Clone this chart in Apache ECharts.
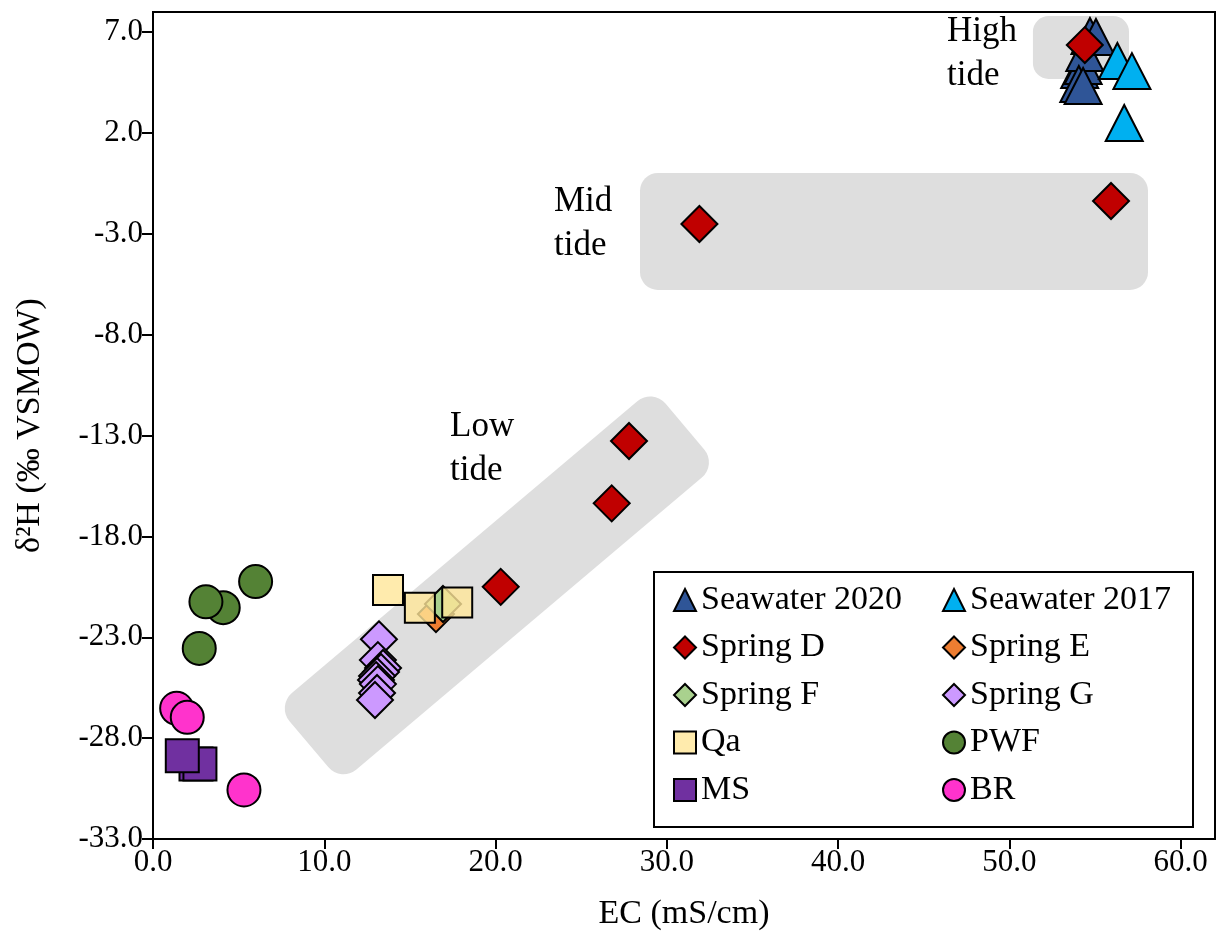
<!DOCTYPE html>
<html>
<head>
<meta charset="utf-8">
<script src="https://cdn.jsdelivr.net/npm/echarts@6/dist/echarts.min.js"></script>
<style>
  html, body { margin: 0; padding: 0; background: #fff; }
  #chart { width: 1216px; height: 947px; }
</style>
</head>
<body>
<div id="chart"></div>
<script>
// EC (mS/cm) vs δ2H (‰ VSMOW) for each sampled water source
const seawater2020 = [[54.1, 5.12], [54.3, 5.32], [54.4, 5.97], [54.05, 4.43], [54.3, 4.33], [54.7, 6.81], [55.05, 6.76]];
const seawater2017 = [[56.3, 5.57], [57.15, 5.07], [56.7, 2.5]];
const springD = [[54.4, 6.36], [31.9, -2.51], [55.93, -1.37], [27.79, -13.27], [26.78, -16.36], [20.3, -20.5]];
const springE = [[16.52, -21.85]];
const springF = [[16.93, -21.35]];
const springG = [[13.19, -23.1], [13.13, -24.13], [13.43, -24.52], [13.31, -24.72], [13.08, -24.92], [13.02, -25.12], [13.13, -25.32], [13.08, -25.76], [12.96, -26.11]];
const qa = [[13.72, -20.66], [15.58, -21.53], [17.76, -21.27]];
const pwf = [[5.99, -20.24], [4.10, -21.53], [3.09, -21.24], [2.70, -23.55]];
const ms = [[2.51, -29.28], [2.74, -29.28], [1.71, -28.87]];
const br = [[1.38, -26.52], [2.0, -26.97], [5.31, -30.57]];

// axis ticks
const xTicks = [0, 10, 20, 30, 40, 50, 60];
const yTicks = [-33, -28, -23, -18, -13, -8, -3, 2, 7];

// shaded tidal groupings, data units: [x0, y0, x1, y1]
const tideBoxes = [[51.37, 7.80, 56.98, 4.68], [28.43, 0.02, 58.09, -5.78]];
// low-tide band: centre line end points [x0, y0, x1, y1]
const lowTideBand = [[9.1, -28.3, 31.05, -12.55]];
const tideLabels = ['High\ntide', 'Mid\ntide', 'Low\ntide'];
const tideLabelAnchors = [[46.35, 5.92], [23.41, -2.51], [17.34, -13.67]];

const FONT = "'Liberation Serif', 'Times New Roman', serif";
const SHADE = '#dedede';

function scatter(name, data, symbol, size, color, extra) {
  return Object.assign({
    name: name,
    type: 'scatter',
    data: data,
    symbol: symbol,
    symbolSize: size,
    z: 3,
    itemStyle: { color: color, borderColor: '#000', borderWidth: 2, opacity: 1 },
    emphasis: { disabled: true }
  }, extra || {});
}

const chart = echarts.init(document.getElementById('chart'), null, { renderer: 'canvas' });

chart.setOption({
  animation: false,
  backgroundColor: '#fff',
  textStyle: { fontFamily: FONT },
  grid: {
    left: 153, right: 1, top: 12, bottom: 108,
    show: true, borderColor: '#000', borderWidth: 2, backgroundColor: 'transparent'
  },
  xAxis: {
    type: 'value', min: 0, max: 62, interval: 10,
    name: 'EC (mS/cm)', nameLocation: 'middle', nameGap: 58,
    nameTextStyle: { fontFamily: FONT, fontSize: 34, color: '#000' },
    axisLine: { show: true, onZero: false, lineStyle: { color: '#000', width: 2 } },
    axisTick: { show: true, length: 10, inside: false, customValues: xTicks, lineStyle: { color: '#000', width: 2 } },
    axisLabel: {
      customValues: xTicks, margin: 8,
      fontFamily: FONT, fontSize: 31, color: '#000',
      formatter: v => v.toFixed(1)
    },
    splitLine: { show: false }
  },
  yAxis: {
    type: 'value', min: -33, max: 8, interval: 5,
    name: 'δ²H (‰ VSMOW)', nameLocation: 'middle', nameGap: 106,
    nameTextStyle: { fontFamily: FONT, fontSize: 34, color: '#000' },
    axisLine: { show: true, onZero: false, lineStyle: { color: '#000', width: 2 } },
    axisTick: { show: true, length: 11, inside: false, customValues: yTicks, lineStyle: { color: '#000', width: 2 } },
    axisLabel: {
      customValues: yTicks, margin: 10,
      fontFamily: FONT, fontSize: 31, color: '#000',
      formatter: v => v.toFixed(1)
    },
    splitLine: { show: false }
  },
  legend: [
    {
      orient: 'vertical', left: 668, top: 575, itemGap: 7.5,
      itemWidth: 22, itemHeight: 22, z: 6,
      textStyle: { fontFamily: FONT, fontSize: 34, color: '#000', lineHeight: 40 },
      data: ['Seawater 2020', 'Spring D', 'Spring F', 'Qa', 'MS']
    },
    {
      orient: 'vertical', left: 937, top: 575, itemGap: 7.5,
      itemWidth: 22, itemHeight: 22, z: 6,
      textStyle: { fontFamily: FONT, fontSize: 34, color: '#000', lineHeight: 40 },
      data: ['Seawater 2017', 'Spring E', 'Spring G', 'PWF', 'BR']
    }
  ],
  graphic: [
    {
      type: 'rect', left: 653, top: 571, z: 5,
      shape: { width: 539, height: 255 },
      style: { fill: '#fff', stroke: '#000', lineWidth: 2 }
    }
  ],
  series: [
    {
      type: 'custom', name: 'tide-boxes', z: 1, silent: true,
      encode: { x: [0, 2], y: [1, 3] },
      data: tideBoxes,
      renderItem: function (params, api) {
        const p0 = api.coord([api.value(0), api.value(1)]);
        const p1 = api.coord([api.value(2), api.value(3)]);
        const x = Math.min(p0[0], p1[0]), y = Math.min(p0[1], p1[1]);
        const w = Math.abs(p1[0] - p0[0]), h = Math.abs(p1[1] - p0[1]);
        return {
          type: 'rect',
          shape: { x: x, y: y, width: w, height: h, r: Math.min(18, h / 4) },
          style: { fill: SHADE }
        };
      }
    },
    {
      type: 'custom', name: 'low-tide-band', z: 1, silent: true,
      encode: { x: [0, 2], y: [1, 3] },
      data: lowTideBand,
      renderItem: function (params, api) {
        const p0 = api.coord([api.value(0), api.value(1)]);
        const p1 = api.coord([api.value(2), api.value(3)]);
        const dx = p1[0] - p0[0], dy = p1[1] - p0[1];
        const len = Math.sqrt(dx * dx + dy * dy);
        const thick = 100;
        return {
          type: 'rect',
          x: (p0[0] + p1[0]) / 2,
          y: (p0[1] + p1[1]) / 2,
          rotation: Math.atan2(-dy, dx),
          shape: { x: -len / 2, y: -thick / 2, width: len, height: thick, r: 20 },
          style: { fill: SHADE }
        };
      }
    },
    {
      type: 'custom', name: 'tide-labels', z: 2, silent: true,
      encode: { x: 0, y: 1 },
      data: tideLabelAnchors,
      renderItem: function (params, api) {
        const p = api.coord([api.value(0), api.value(1)]);
        return {
          type: 'text',
          x: p[0], y: p[1],
          style: {
            text: tideLabels[params.dataIndex],
            fontFamily: FONT, fontSize: 35, fill: '#000',
            align: 'left', verticalAlign: 'middle', lineHeight: 44
          }
        };
      }
    },
    scatter('Seawater 2020', seawater2020, 'triangle', [37, 36], '#2f5597'),
    scatter('Seawater 2017', seawater2017, 'triangle', [37, 36], '#00b0f0'),
    scatter('Spring D', springD, 'diamond', 36, '#c00000'),
    scatter('Spring E', springE, 'diamond', 36, '#ed7d31'),
    scatter('Spring F', springF, 'diamond', 36, '#a9d18e'),
    scatter('Spring G', springG, 'diamond', 36, '#cc99ff'),
    scatter('Qa', qa, 'rect', 30, 'rgba(255, 230, 153, 0.8)'),
    scatter('PWF', pwf, 'circle', 33, '#548235'),
    scatter('MS', ms, 'rect', 33, '#7030a0'),
    scatter('BR', br, 'circle', 33, '#ff33cc')
  ]
});
</script>
</body>
</html>
